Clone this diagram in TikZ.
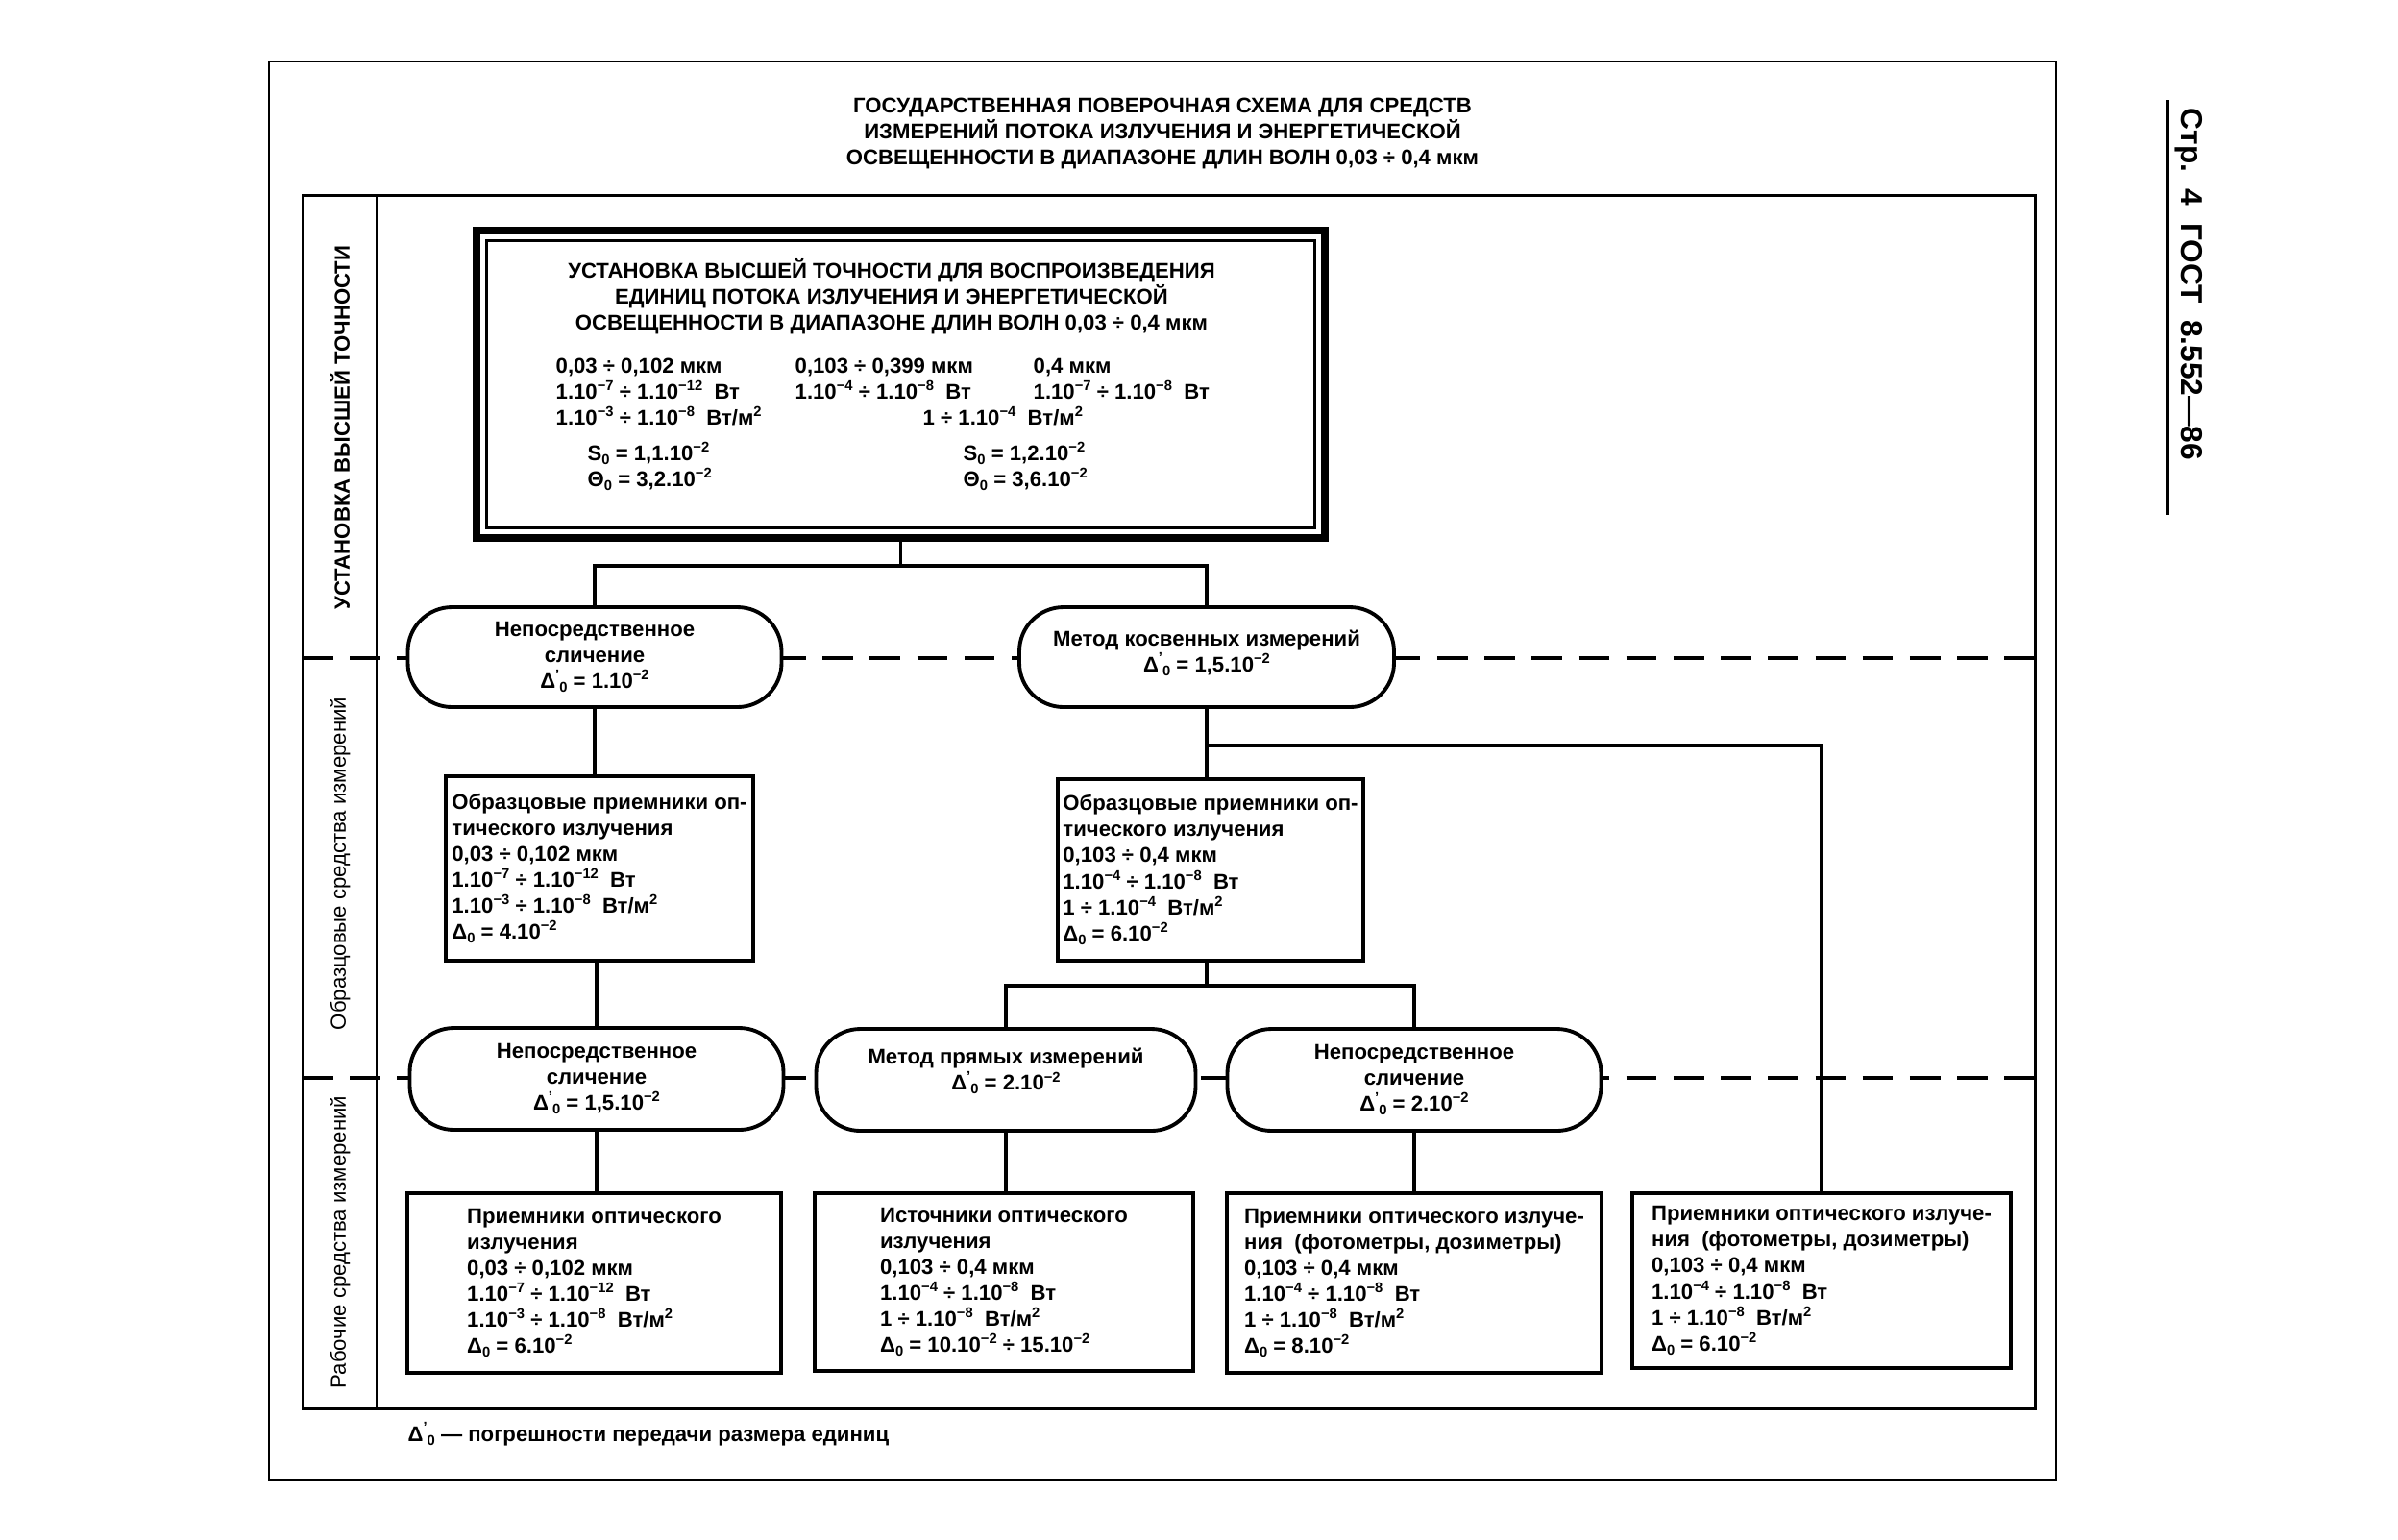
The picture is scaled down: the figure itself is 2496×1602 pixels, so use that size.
\documentclass[tikz,border=0pt]{standalone}
\usepackage{fontspec}
\setmainfont{Liberation Sans}
\newcommand\fs{\fontsize{6.3}{7.7}\selectfont}
\newcommand\ex[1]{\raisebox{0.75ex}{\fontsize{4.2}{4.2}\selectfont #1}}
\newcommand\sbz{\raisebox{-0.35ex}{\fontsize{4.2}{4.2}\selectfont 0}}
\newcommand\Dz{Δ\sbz}
\newcommand\Dzp{Δ\raisebox{0.8ex}{\fontsize{4.2}{4.2}\selectfont ’}\sbz}
\begin{document}
\begin{tikzpicture}[x=0.1mm,y=-0.1mm,
  every node/.style={inner sep=0pt, font=\fs\bfseries},
  thinframe/.style={line width=0.6pt},
  midframe/.style={line width=0.85pt},
  box/.style={draw, line width=1.2pt, fill=white, align=left},
  oval/.style={draw, line width=1.1pt, fill=white, rounded corners=4.6mm, align=center},
  conn/.style={line width=1pt},
  sepline/.style={line width=1.3pt, dash pattern=on 9pt off 5pt},
  side/.style={rotate=90, align=center}]
\useasboundingbox (0,0) rectangle (2496,1602);

% frames
\draw[thinframe] (280,64) rectangle (2140,1541);
\draw[midframe] (315,203) rectangle (2118,1466);
\draw[midframe] (392,203) -- (392,1466);
\draw[sepline] (315,685) -- (2118,685);
\draw[sepline] (315,1122) -- (2118,1122);

% header
\draw[line width=1.3pt] (2256,104) -- (2256,536);
\node[rotate=-90, font=\fontsize{9}{11}\selectfont\bfseries] (hdr) at (2278,296) {Стр.\ \ 4\ \ ГОСТ\ \ 8.552—86};

% title
\node[align=center] (title) at (1210,139) {ГОСУДАРСТВЕННАЯ ПОВЕРОЧНАЯ СХЕМА ДЛЯ СРЕДСТВ\\ИЗМЕРЕНИЙ ПОТОКА ИЗЛУЧЕНИЯ И ЭНЕРГЕТИЧЕСКОЙ\\ОСВЕЩЕННОСТИ В ДИАПАЗОНЕ ДЛИН ВОЛН 0,03 ÷ 0,4 мкм};

% side labels
\node[side] (s1) at (354,445) {УСТАНОВКА ВЫСШЕЙ ТОЧНОСТИ};
\node[side, font=\fs] (s2) at (354,899) {Образцовые средства измерений};
\node[side, font=\fs] (s3) at (354,1293) {Рабочие средства измерений};

% top box
\node[draw, line width=2.5pt, fill=white, minimum width=88.3mm, minimum height=32mm] (top) at (937.5,400) {};
\draw[line width=1pt] ([shift={(1.5mm,-1.5mm)}]top.north west) rectangle ([shift={(-1.5mm,1.5mm)}]top.south east);
\node[align=center] (toptitle) at (928,309) {УСТАНОВКА ВЫСШЕЙ ТОЧНОСТИ ДЛЯ ВОСПРОИЗВЕДЕНИЯ\\ЕДИНИЦ ПОТОКА ИЗЛУЧЕНИЯ И ЭНЕРГЕТИЧЕСКОЙ\\ОСВЕЩЕННОСТИ В ДИАПАЗОНЕ ДЛИН ВОЛН 0,03 ÷ 0,4 мкм};
\node[anchor=base west] (r11) at (578,388) {0,03 ÷ 0,102 мкм};
\node[anchor=base west] (r12) at (827,388) {0,103 ÷ 0,399 мкм};
\node[anchor=base west] (r13) at (1075,388) {0,4 мкм};
\node[anchor=base west] (r21) at (578,415) {1.10\ex{−7} ÷ 1.10\ex{−12}\ \ Вт};
\node[anchor=base west] (r22) at (827,415) {1.10\ex{−4} ÷ 1.10\ex{−8}\ \ Вт};
\node[anchor=base west] (r23) at (1075,415) {1.10\ex{−7} ÷ 1.10\ex{−8}\ \ Вт};
\node[anchor=base west] (r31) at (578,442) {1.10\ex{−3} ÷ 1.10\ex{−8}\ \ Вт/м\ex{2}};
\node[anchor=base west] (r32) at (960,442) {1 ÷ 1.10\ex{−4}\ \ Вт/м\ex{2}};
\node[anchor=base west] (r41) at (611,479) {S\sbz{} = 1,1.10\ex{−2}};
\node[anchor=base west] (r42) at (1002,479) {S\sbz{} = 1,2.10\ex{−2}};
\node[anchor=base west] (r51) at (611,506) {Θ\sbz{} = 3,2.10\ex{−2}};
\node[anchor=base west] (r52) at (1002,506) {Θ\sbz{} = 3,6.10\ex{−2}};

% first row of ovals
\node[oval, minimum width=38.9mm, minimum height=10.4mm] (e1) at (619,684) {Непосредственное\\сличение\\\Dzp{} = 1.10\ex{−2}};
\node[oval, minimum width=39mm, minimum height=10.4mm, text depth=1.3mm] (e2) at (1256,684) {Метод косвенных измерений\\\Dzp{} = 1,5.10\ex{−2}};

% standard boxes
\node[box, minimum width=32mm, minimum height=19.2mm] (b1) at (624,904) {Образцовые приемники оп-\\тического излучения\\0,03 ÷ 0,102 мкм\\1.10\ex{−7} ÷ 1.10\ex{−12}\ \ Вт\\1.10\ex{−3} ÷ 1.10\ex{−8}\ \ Вт/м\ex{2}\\\Dz{} = 4.10\ex{−2}};
\node[box, minimum width=31.8mm, minimum height=18.9mm] (b2) at (1260,905.5) {Образцовые приемники оп-\\тического излучения\\0,103 ÷ 0,4 мкм\\1.10\ex{−4} ÷ 1.10\ex{−8}\ \ Вт\\1 ÷ 1.10\ex{−4}\ \ Вт/м\ex{2}\\\Dz{} = 6.10\ex{−2}};

% second row of ovals
\node[oval, minimum width=38.9mm, minimum height=10.6mm] (e3) at (621,1123) {Непосредственное\\сличение\\\Dzp{} = 1,5.10\ex{−2}};
\node[oval, minimum width=39.5mm, minimum height=10.6mm, text depth=2.2mm] (e4) at (1047,1124) {Метод прямых измерений\\\Dzp{} = 2.10\ex{−2}};
\node[oval, minimum width=38.9mm, minimum height=10.6mm] (e5) at (1472,1124) {Непосредственное\\сличение\\\Dzp{} = 2.10\ex{−2}};

% working boxes
\node[box, minimum width=38.9mm, minimum height=18.7mm] (bA) at (618.5,1335.5) {Приемники оптического\\излучения\\0,03 ÷ 0,102 мкм\\1.10\ex{−7} ÷ 1.10\ex{−12}\ \ Вт\\1.10\ex{−3} ÷ 1.10\ex{−8}\ \ Вт/м\ex{2}\\\Dz{} = 6.10\ex{−2}};
\node[box, minimum width=39.4mm, minimum height=18.5mm] (bB) at (1045,1334.5) {Источники оптического\\излучения\\0,103 ÷ 0,4 мкм\\1.10\ex{−4} ÷ 1.10\ex{−8}\ \ Вт\\1 ÷ 1.10\ex{−8}\ \ Вт/м\ex{2}\\\Dz{} = 10.10\ex{−2} ÷ 15.10\ex{−2}};
\node[box, minimum width=39mm, minimum height=18.7mm] (bC) at (1472,1335.5) {Приемники оптического излуче-\\ния\ \ (фотометры, дозиметры)\\0,103 ÷ 0,4 мкм\\1.10\ex{−4} ÷ 1.10\ex{−8}\ \ Вт\\1 ÷ 1.10\ex{−8}\ \ Вт/м\ex{2}\\\Dz{} = 8.10\ex{−2}};
\node[box, minimum width=39.4mm, minimum height=18.2mm] (bD) at (1896,1333) {Приемники оптического излуче-\\ния\ \ (фотометры, дозиметры)\\0,103 ÷ 0,4 мкм\\1.10\ex{−4} ÷ 1.10\ex{−8}\ \ Вт\\1 ÷ 1.10\ex{−8}\ \ Вт/м\ex{2}\\\Dz{} = 6.10\ex{−2}};

% connectors
\coordinate (j0) at (937.5,589);
\coordinate (j1) at (1256,776);
\coordinate (j2) at (1256,1026);
\draw[conn] (top.south) -- (j0);
\draw[conn] (e1.north) |- (j0) -| (e2.north);
\draw[conn] (e1.south) -- (e1.south |- b1.north);
\draw[conn] (e2.south) -- (j1) -- (j1 |- b2.north);
\draw[conn] (j1) -| (bD.north);
\draw[conn] (e3.north |- b1.south) -- (e3.north);
\draw[conn] (j2 |- b2.south) -- (j2);
\draw[conn] (e4.north) |- (j2) -| (e5.north);
\draw[conn] (e3.south) -- (e3.south |- bA.north);
\draw[conn] (e4.south) -- (e4.south |- bB.north);
\draw[conn] (e5.south) -- (e5.south |- bC.north);

% footnote
\node[anchor=base west] (foot) at (424,1500) {\Dzp{} — погрешности передачи размера единиц};
\end{tikzpicture}
\end{document}
